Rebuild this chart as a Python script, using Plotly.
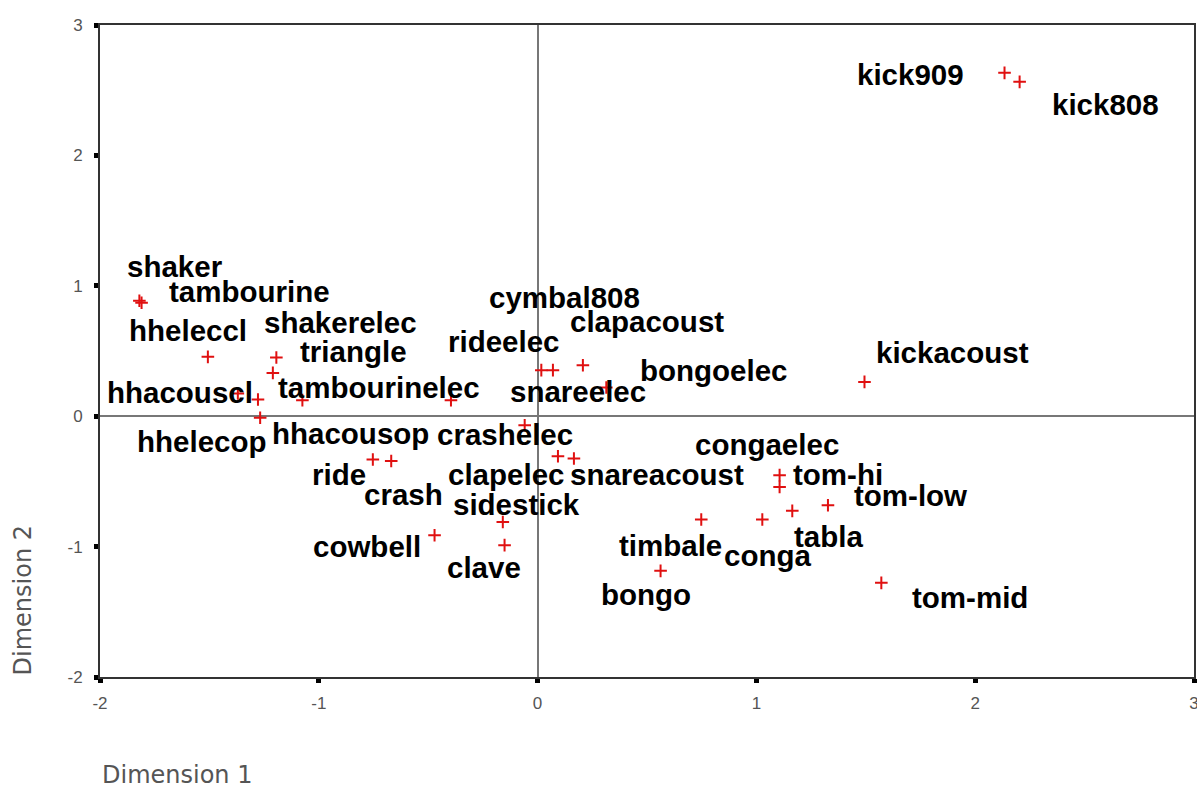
import plotly.graph_objects as go

# ---- data ----
names = ["shaker", "tambourine", "hheleccl", "shakerelec", "triangle", "hhacouscl",
         "hhacousop", "tambourinelec", "hhelecop", "rideelec", "crashelec", "clapelec",
         "snareacoust", "ride", "crash", "sidestick", "cowbell", "clave", "bongo",
         "cymbal808", "snareelec", "clapacoust", "bongoelec", "congaelec", "tom-hi",
         "tom-low", "tabla", "timbale", "conga", "tom-mid", "kickacoust", "kick909", "kick808"]
dim1 = [-1.82, -1.81, -1.507, -1.194, -1.210, -1.370,
        -1.278, -1.075, -1.268, -0.396, -0.059, 0.093,
        0.166, -0.753, -0.669, -0.159, -0.471, -0.151, 0.562,
        0.017, 0.070, 0.207, 0.314, 1.106, 1.106,
        1.327, 1.164, 0.748, 1.027, 1.571, 1.494, 2.134, 2.203]
dim2 = [0.885, 0.870, 0.455, 0.450, 0.332, 0.174,
        0.128, 0.123, -0.012, 0.123, -0.069, -0.307,
        -0.324, -0.332, -0.343, -0.811, -0.913, -0.989, -1.186,
        0.353, 0.353, 0.391, 0.220, -0.452, -0.542,
        -0.683, -0.726, -0.792, -0.792, -1.278, 0.263, 2.633, 2.564]
tick_vals = [-2, -1, 0, 1, 2, 3]
tick_text = ["-2", "-1", "0", "1", "2", "3"]
x_title = "Dimension 1"
y_title = "Dimension 2"

# ---- label placement (pixel offsets of label centre from its point) ----
label_offsets = {
    "shaker": (36, -34), "tambourine": (108, -11), "hheleccl": (-20, -26),
    "shakerelec": (64, -35), "triangle": (81, -21), "tambourinelec": (77, -13),
    "hhacouscl": (-58, -1), "hhelecop": (-58, 24), "hhacousop": (93, 34),
    "crashelec": (-20, 9), "ride": (-34, 15), "crash": (12, 34),
    "clapelec": (-52, 18), "snareacoust": (83, 16), "sidestick": (14, -17),
    "cowbell": (-68, 11), "clave": (-21, 22), "bongo": (-15, 24),
    "cymbal808": (23, -73), "clapacoust": (64, -44), "rideelec": (53, -59),
    "snareelec": (25, 21), "bongoelec": (108, -17), "congaelec": (-13, -31),
    "tom-hi": (58, -12), "tom-low": (83, -10), "tabla": (36, 26),
    "timbale": (-31, 26), "conga": (5, 36), "tom-mid": (89, 15),
    "kickacoust": (88, -29), "kick909": (-94, 2), "kick808": (86, 23),
}

LABEL_FONT = dict(family="Liberation Sans, Arial, sans-serif", size=29.5, color="#000000",
                  weight="bold")
TICK_FONT = dict(family="Liberation Sans, Arial, sans-serif", size=17, color="#555555")
TITLE_FONT = dict(family="DejaVu Sans", size=24, color="#555555")

fig = go.Figure()
fig.add_trace(go.Scatter(
    x=dim1, y=dim2, mode="markers",
    marker=dict(symbol="cross-thin", size=9, line=dict(color="#e01010", width=2)),
    hovertext=names, showlegend=False, cliponaxis=False,
))

annotations = []
for n, xv, yv in zip(names, dim1, dim2):
    dx, dy = label_offsets[n]
    annotations.append(dict(
        x=xv, y=yv, xref="x", yref="y", text=n, showarrow=False,
        xanchor="center", yanchor="middle", xshift=dx, yshift=-dy,
        font=LABEL_FONT,
    ))

annotations.append(dict(
    x=0, y=0, xref="paper", yref="paper", text=x_title, showarrow=False,
    xanchor="left", yanchor="bottom", yshift=-114, font=TITLE_FONT,
))
annotations.append(dict(
    x=-0.070, y=0, xref="paper", yref="paper", text=y_title, showarrow=False,
    textangle=-90, xanchor="center", yanchor="bottom", font=TITLE_FONT,
))

axis_common = dict(
    tickvals=tick_vals, ticktext=tick_text, showgrid=False, automargin=False,
    showline=True, linecolor="#333333", linewidth=2, mirror=True,
    zeroline=True, zerolinecolor="#777777", zerolinewidth=1.5,
    ticks="outside", ticklen=4, tickwidth=5, tickcolor="#000000",
    tickfont=TICK_FONT, ticklabeloverflow="allow",
)

fig.update_layout(
    width=1197, height=792,
    margin=dict(l=100, r=3, t=25, b=115),
    paper_bgcolor="white", plot_bgcolor="white",
    xaxis=dict(range=[-2, 3], ticklabelstandoff=6, **axis_common),
    yaxis=dict(range=[-2, 3], ticklabelstandoff=8, **axis_common),
    annotations=annotations,
)

fig.write_html("out.html", config={"displayModeBar": False},
               post_script="document.body.style.margin='0';")
